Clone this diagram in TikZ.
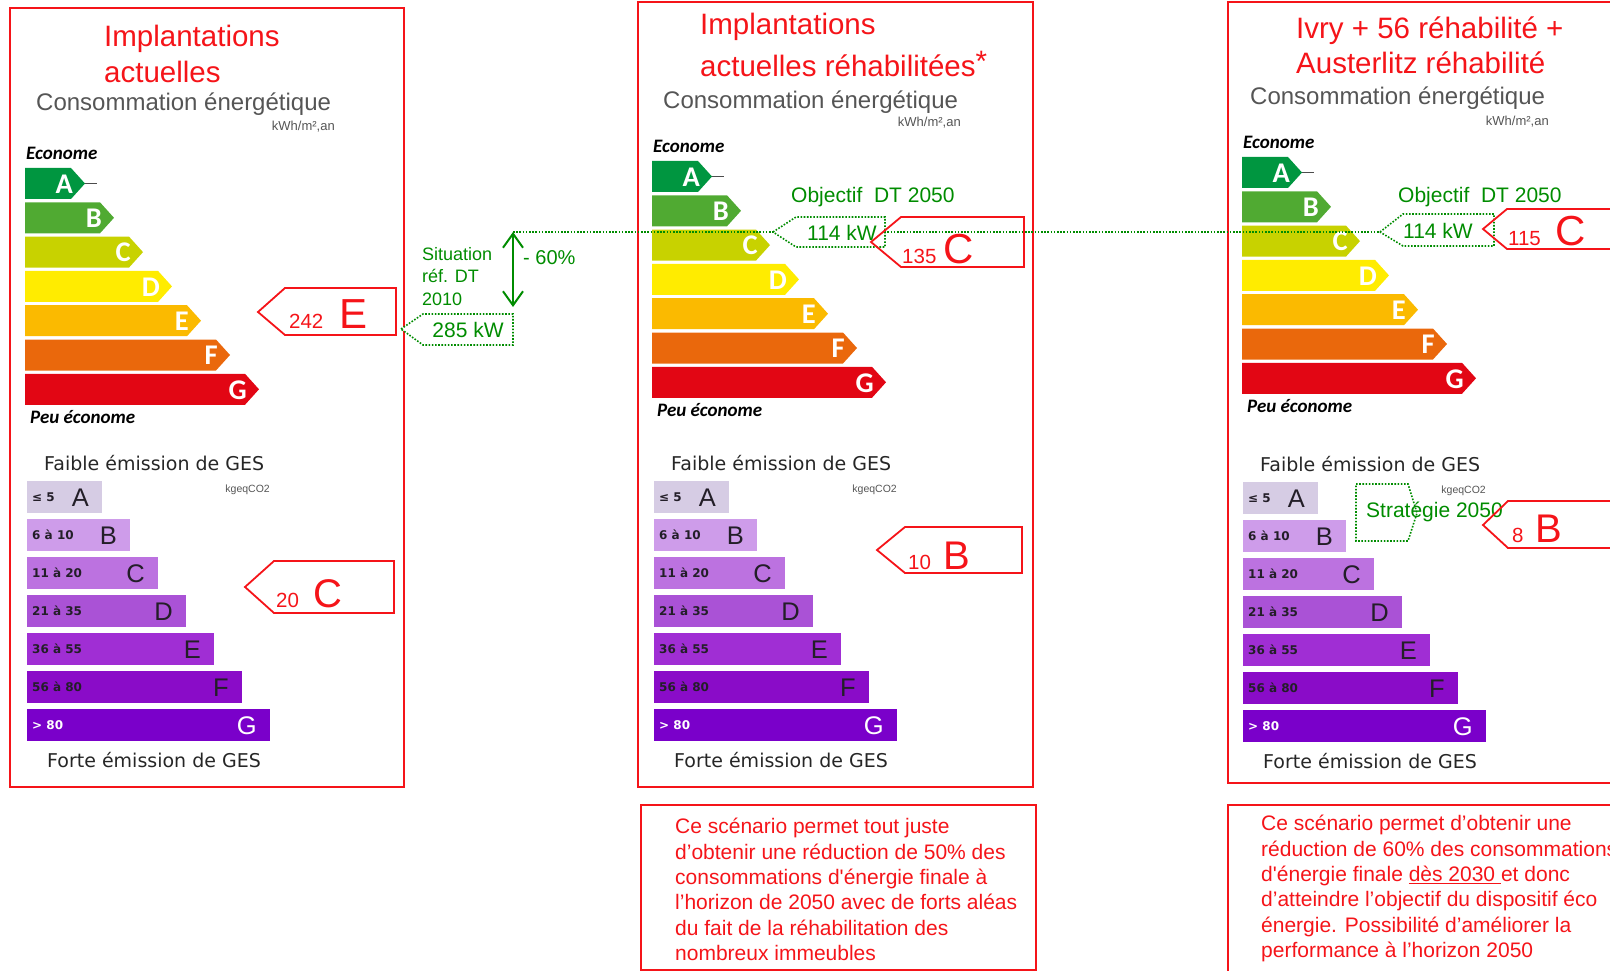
\documentclass[tikz,border=0pt]{standalone}
\usepackage{fontspec}
\setmainfont{Liberation Sans}
\newfontfamily\calibri{Carlito}
\newfontfamily\verdana{DejaVu Sans}
\usetikzlibrary{arrows.meta}

\definecolor{rouge}{RGB}{245,20,25}
\definecolor{vert}{RGB}{0,140,0}
\definecolor{gris}{RGB}{85,85,85}
\definecolor{noir}{RGB}{35,30,40}
% classes energie
\definecolor{eA}{RGB}{0,150,64}
\definecolor{eB}{RGB}{80,170,50}
\definecolor{eC}{RGB}{200,210,0}
\definecolor{eD}{RGB}{255,236,0}
\definecolor{eE}{RGB}{251,186,0}
\definecolor{eF}{RGB}{234,104,12}
\definecolor{eG}{RGB}{226,6,20}
% classes GES
\definecolor{gA}{RGB}{214,204,228}
\definecolor{gB}{RGB}{206,156,234}
\definecolor{gC}{RGB}{188,114,224}
\definecolor{gD}{RGB}{170,82,214}
\definecolor{gE}{RGB}{160,46,212}
\definecolor{gF}{RGB}{138,12,200}
\definecolor{gG}{RGB}{122,0,202}

\begin{document}
\begin{tikzpicture}[x=1pt, y=-1pt,
  cadre/.style={draw=rouge, line width=2pt},
  etiq/.style={draw=rouge, line width=1.8pt},
  etiqvert/.style={draw=vert, line width=1.6pt, dash pattern=on 1.6pt off 1.6pt, fill=white},
  pointille/.style={draw=vert, line width=1.6pt, dash pattern=on 1.6pt off 1.6pt},
  titre/.style={text=rouge, font=\fontsize{29.5}{#1}\selectfont, align=left, anchor=north west, inner sep=0pt},
  conso/.style={text=gris, font=\fontsize{24}{24}\selectfont, anchor=west, inner sep=0pt},
  unite/.style={text=gris, font=\fontsize{13}{13}\selectfont, anchor=east, inner sep=0pt},
  ges/.style={text=black!85, font=\verdana\fontsize{19}{19}\selectfont, anchor=west, inner sep=0pt},
  eco/.style={text=black, font=\calibri\bfseries\itshape\fontsize{19}{19}\selectfont, anchor=west, inner sep=0pt},
  lettre/.style={text=white, font=\calibri\bfseries\fontsize{28.5}{28.5}\selectfont, anchor=east, inner sep=0pt},
  lettreges/.style={font=\fontsize{25.5}{25.5}\selectfont, anchor=east, inner sep=0pt},
  seuil/.style={font=\verdana\bfseries\fontsize{12}{12}\selectfont, anchor=west, inner sep=0pt},
  petit/.style={text=rouge, font=\fontsize{20.5}{20.5}\selectfont, anchor=base west, inner sep=0pt},
  grand/.style={text=rouge, font=\fontsize{42}{42}\selectfont, anchor=base west, inner sep=0pt},
  vtxt/.style={text=vert, font=\fontsize{21}{21}\selectfont, inner sep=0pt},
  texte/.style={text=rouge, font=\fontsize{21}{25.4}\selectfont, align=left, anchor=north west, inner sep=0pt}
]
\useasboundingbox (0,0) rectangle (1610,971);

% cadres
\draw[cadre] (10,8) rectangle (404,787);
\draw[cadre] (638,2) rectangle (1033,787);
\draw[cadre] (1228,2) rectangle (1630,783);
\draw[cadre] (641,805) rectangle (1036,969.5);
\draw[cadre] (1228,805) rectangle (1630,985);

% echelles energie et GES
\foreach \ex/\ey/\gx/\gy/\p in {25/168/27/481/l, 652/161/654/481/m, 1242/157/1243/482/r}{
  \node[eco] (\p-eco) at (\ex+1,\ey-15) {Econome};
  \node[eco] (\p-peu) at (\ex+5,\ey+249) {Peu économe};
  \foreach \cl [count=\i from 0] in {A,...,G}{
    \fill[fill=e\cl] (\ex,\ey+34.3*\i) -- ++(46+29*\i,0) -- ++(14,15.5) -- ++(-14,15.5) -- ++(-46-29*\i,0) -- cycle;
    \node[lettre] (\p-e\cl) at (\ex+48+29*\i,\ey+34.3*\i+16) {\cl};
  }
  \draw[black!70, line width=1pt] (\ex+60,\ey+15.5) -- ++(12,0);
  \node[ges] (\p-faible) at (\gx+17,\gy-18) {Faible émission de GES};
  \node[unite, font=\fontsize{10.5}{10.5}\selectfont] (\p-co2) at (\gx+243,\gy+9) {kgeqCO2};
  \foreach \cl/\v/\tc [count=\i from 0] in {A/≤ 5/noir, B/6 à 10/noir, C/11 à 20/noir, D/21 à 35/noir, E/36 à 55/noir, F/56 à 80/noir, G/> 80/white}{
    \fill[fill=g\cl] (\gx,\gy+38*\i) rectangle ++(75+28*\i,32);
    \node[seuil, text=\tc] (\p-s\cl) at (\gx+5,\gy+38*\i+16) {\v};
    \node[lettreges, text=\tc] (\p-g\cl) at (\gx+62+28*\i,\gy+38*\i+17) {\cl};
  }
  \node[ges] (\p-forte) at (\gx+20,\gy+279) {Forte émission de GES};
}

% titres
\node[titre=36] (titre-l) at (104,25) {Implantations\\actuelles};
\node[titre=42] (titre-m) at (700,13) {Implantations\\actuelles réhabilitées\raisebox{5pt}{*}};
\node[titre=35] (titre-r) at (1296,17) {Ivry + 56 réhabilité +\\Austerlitz réhabilité};
\node[conso] (conso-l) at (36,104) {Consommation énergétique};
\node[conso] (conso-m) at (663,102) {Consommation énergétique};
\node[conso] (conso-r) at (1250,98) {Consommation énergétique};
\node[unite] (kwh-l) at (335,127) {kWh/m²,an};
\node[unite] (kwh-m) at (961,123) {kWh/m²,an};
\node[unite] (kwh-r) at (1549,122) {kWh/m²,an};

% reference 2010 et objectif
\coordinate (haut) at (513,232);
\coordinate (bas) at (513,307);
\coordinate (pointe-m) at (773,232);
\coordinate (pointe-r) at (1380,232);
\draw[pointille] (haut) -- (pointe-r);
\draw[vert, line width=2pt, {Straight Barb[length=14pt,width=20pt]}-{Straight Barb[length=14pt,width=20pt]}] (haut) -- (bas);
\node[vtxt, font=\fontsize{18}{22.5}\selectfont, align=left, anchor=north west] (situation) at (422,247) {Situation\\réf. DT\\2010};
\node[vtxt, font=\fontsize{20}{20}\selectfont, anchor=west] (moins) at (523,258) {- 60\%};
\draw[etiqvert] (401,329) -- (423,314) -- (513,314) -- (513,345) -- (423,345) -- cycle;
\node[vtxt] (kw-l) at (468,330) {285 kW};
\draw[etiqvert] (pointe-m) -- (796,217) -- (885,217) -- (885,247) -- (796,247) -- cycle;
\node[vtxt] (kw-m) at (842,233) {114 kW};
\draw[etiqvert] (pointe-r) -- (1403,214) -- (1494,214) -- (1494,246) -- (1403,246) -- cycle;
\node[vtxt] (kw-r) at (1438,231) {114 kW};
\node[vtxt, anchor=west] (obj-m) at (791,197) {Objectif\ \ DT 2050};
\node[vtxt, anchor=west] (obj-r) at (1398,197) {Objectif\ \ DT 2050};
\draw[pointille] (1356,484) -- (1408,484) -- (1417,513) -- (1408,541) -- (1356,541) -- cycle;
\node[vtxt, anchor=west] (strat) at (1366,512) {Stratégie 2050};

% etiquettes rouges
\draw[etiq] (258,312) -- (285,288) -- (396,288) -- (396,335) -- (285,335) -- cycle;
\node[petit] (v-lE) at (289,328) {242};
\node[grand] (c-lE) at (339,328) {E};
\draw[etiq] (245,587) -- (274,561) -- (394,561) -- (394,613) -- (274,613) -- cycle;
\node[petit] (v-lC) at (276,607) {20};
\node[grand, font=\fontsize{40}{40}\selectfont] (c-lC) at (313,607) {C};
\draw[etiq] (871,242) -- (901,217) -- (1024,217) -- (1024,267) -- (901,267) -- cycle;
\node[petit] (v-mC) at (902,263) {135};
\node[grand] (c-mC) at (943,263) {C};
\draw[etiq] (877,550) -- (905,527) -- (1022,527) -- (1022,573) -- (905,573) -- cycle;
\node[petit] (v-mB) at (908,569) {10};
\node[grand, font=\fontsize{40}{40}\selectfont] (c-mB) at (943,569) {B};
\draw[etiq] (1483,229) -- (1507,209) -- (1630,209) -- (1630,249) -- (1507,249) -- cycle;
\node[petit] (v-rC) at (1508,245) {115};
\node[grand] (c-rC) at (1555,245) {C};
\draw[etiq] (1483,525) -- (1508,501) -- (1630,501) -- (1630,548) -- (1508,548) -- cycle;
\node[petit] (v-rB) at (1512,542) {8};
\node[grand, font=\fontsize{40}{40}\selectfont] (c-rB) at (1535,542) {B};

% commentaires
\node[texte] (txt-m) at (675,818) {Ce scénario permet tout juste\\d’obtenir une réduction de 50\% des\\consommations d\textquotesingle énergie finale à\\l’horizon de 2050 avec de forts aléas\\du fait de la réhabilitation des\\nombreux immeubles};
\node[texte] (txt-r) at (1261,815) {Ce scénario permet d’obtenir une\\réduction de 60\% des consommations\\d\textquotesingle énergie finale \underline{dès 2030 }et donc\\d’atteindre l’objectif du dispositif éco\\énergie. Possibilité d’améliorer la\\performance à l’horizon 2050};
\end{tikzpicture}
\end{document}
